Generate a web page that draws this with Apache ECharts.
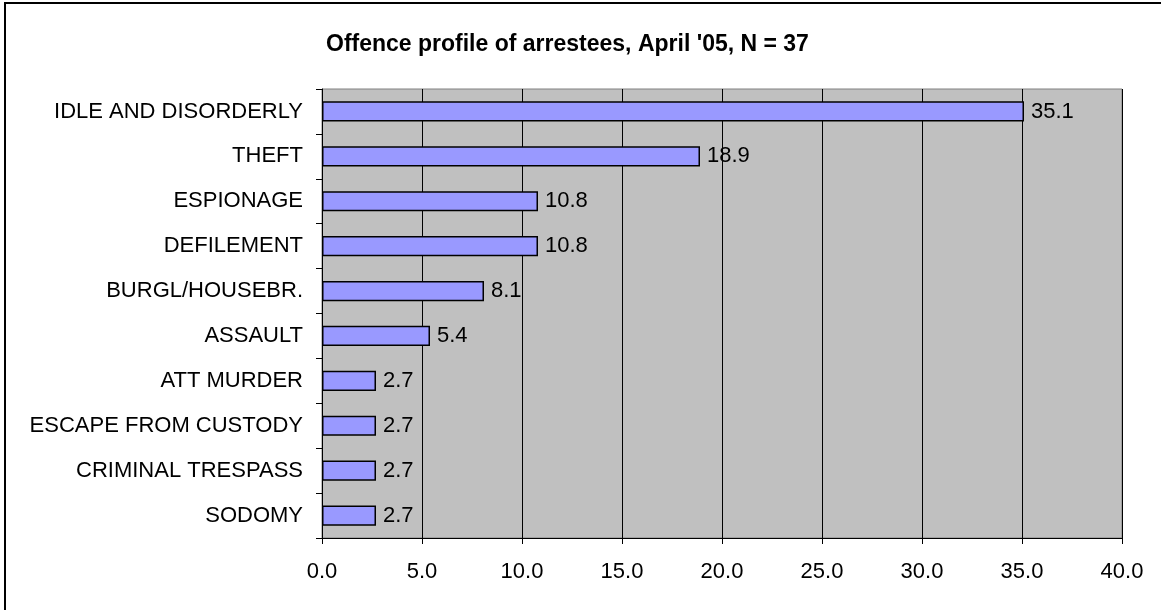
<!DOCTYPE html>
<html><head><meta charset="utf-8">
<script src="https://cdn.jsdelivr.net/npm/echarts@6/dist/echarts.min.js"></script>
<style>html,body{margin:0;padding:0;background:#fff}#c{width:1161px;height:610px}</style>
</head><body><div id="c"></div>
<script>
const titleText = "Offence profile of arrestees, April '05, N = 37";
const categories = ["IDLE AND DISORDERLY","THEFT","ESPIONAGE","DEFILEMENT","BURGL/HOUSEBR.","ASSAULT","ATT MURDER","ESCAPE FROM CUSTODY","CRIMINAL TRESPASS","SODOMY"];
const values = [35.1, 18.9, 10.8, 10.8, 8.1, 5.4, 2.7, 2.7, 2.7, 2.7];
const xTicks = [0, 5, 10, 15, 20, 25, 30, 35, 40];

const chart = echarts.init(document.getElementById('c'), null, {renderer:'canvas'});
const font = 'Liberation Sans, Arial, sans-serif';
chart.setOption({
  animation:false,
  backgroundColor:'#fff',
  textStyle:{fontFamily:font},
  title:{text:titleText,left:321,top:28,textStyle:{fontFamily:font,fontSize:23,fontWeight:'bold',color:'#000'}},
  graphic:[{type:'rect',shape:{x:5,y:3,width:1300,height:800},style:{fill:'none',stroke:'#000',lineWidth:2},z:-1}],
  grid:{left:322,right:39,top:89,bottom:72,show:true,backgroundColor:'#C0C0C0',borderColor:'#808080',borderWidth:1},
  xAxis:{type:'value',min:xTicks[0],max:xTicks[xTicks.length-1],interval:5,
    axisLine:{show:true,lineStyle:{color:'#000'}},
    axisTick:{show:true,length:6,lineStyle:{color:'#000'}},
    axisLabel:{margin:23,fontSize:22,color:'#000',fontFamily:font,formatter:v=>v.toFixed(1)},
    splitLine:{show:true,lineStyle:{color:'#000',width:1}}},
  yAxis:{type:'category',data:categories,inverse:true,
    axisLine:{show:true,lineStyle:{color:'#000'}},
    axisTick:{show:true,length:6,lineStyle:{color:'#000'}},
    axisLabel:{margin:19,fontSize:22,color:'#000',fontFamily:font}},
  series:[{type:'bar',data:values,barCategoryGap:'55%',
    itemStyle:{color:'#9999FF',borderColor:'#000',borderWidth:1.5},
    label:{show:true,position:'right',distance:7,fontSize:22,color:'#000',fontFamily:font,formatter:p=>p.value.toFixed(1)}}]
});
</script></body></html>
